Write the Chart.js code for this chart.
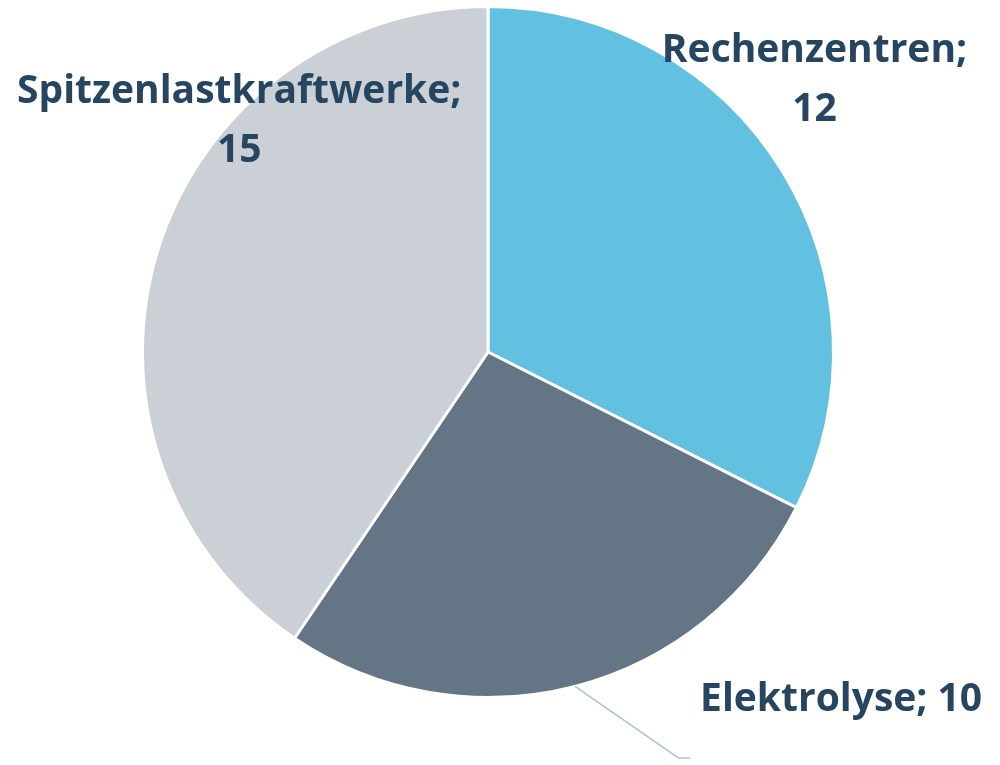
<!DOCTYPE html>
<html>
<head>
<meta charset="utf-8">
<script src="https://cdn.jsdelivr.net/npm/chart.js@4.4.1/dist/chart.umd.min.js"></script>
<style>
  html, body { margin: 0; padding: 0; background: #ffffff; }
  #wrap { position: relative; width: 1000px; height: 765px; }
</style>
</head>
<body>
<div id="wrap"><canvas id="pie" width="1000" height="765"></canvas></div>
<script>
// Daten
var categories = ['Rechenzentren', 'Elektrolyse', 'Spitzenlastkraftwerke'];
var values = [12, 10, 15];
var colors = ['#62C0E1', '#647585', '#CBD0D7'];

// Beschriftungen: Position relativ zum Mittelpunkt (in Radien), Zeilen
var labelPos = [
    { dx: 0.945, dy: -0.84, lines: ['Rechenzentren;', '12'] },
    { dx: 1.022, dy: 1.04, lines: ['Elektrolyse; 10'] },
    { dx: -0.72, dy: -0.72, lines: ['Spitzenlastkraftwerke;', '15'] }
];

var labelPlugin = {
    id: 'sliceLabels',
    afterDatasetsDraw(chart) {
        var ctx = chart.ctx;
        var meta = chart.getDatasetMeta(0);
        var arc0 = meta.data[0];
        var cx = arc0.x, cy = arc0.y, r = arc0.outerRadius;
        var fontSize = 39;
        var sx = 1.0;
        var lineH = 59;

        // Führungslinie Elektrolyse
        var a = meta.data[1];
        var mid = (a.startAngle + a.endAngle) / 2;
        var x0 = cx + Math.cos(mid) * a.outerRadius;
        var y0 = cy + Math.sin(mid) * a.outerRadius;
        ctx.save();
        ctx.strokeStyle = '#A9C4DA';
        ctx.lineWidth = 1.5;
        ctx.beginPath();
        ctx.moveTo(x0, y0);
        ctx.lineTo(cx + 0.551 * r, cy + 1.175 * r);
        ctx.lineTo(cx + 0.586 * r, cy + 1.175 * r);
        ctx.stroke();
        ctx.restore();

        ctx.save();
        ctx.fillStyle = '#264561';
        ctx.font = 'bold ' + fontSize + 'px "Open Sans", sans-serif';
        ctx.textAlign = 'center';
        ctx.textBaseline = 'alphabetic';
        for (var i = 0; i < labelPos.length; i++) {
            var p = labelPos[i];
            var lx = cx + p.dx * r;
            var ly = cy + p.dy * r;
            for (var j = 0; j < p.lines.length; j++) {
                ctx.save();
                ctx.translate(lx, ly + j * lineH);
                ctx.scale(sx, 1);
                ctx.fillText(p.lines[j], 0, 0);
                ctx.restore();
            }
        }
        ctx.restore();
    }
};

var ctx = document.getElementById('pie');
var chart = new Chart(ctx, {
    type: 'pie',
    data: {
        labels: categories,
        datasets: [{
            data: values,
            backgroundColor: colors,
            borderColor: '#ffffff',
            borderWidth: 3
        }]
    },
    options: {
        responsive: false,
        animation: false,
        layout: {
            padding: { left: 141, right: 165, top: 5, bottom: 66 }
        },
        plugins: {
            legend: { display: false },
            tooltip: { enabled: false }
        }
    },
    plugins: [labelPlugin]
});
</script>
</body>
</html>
